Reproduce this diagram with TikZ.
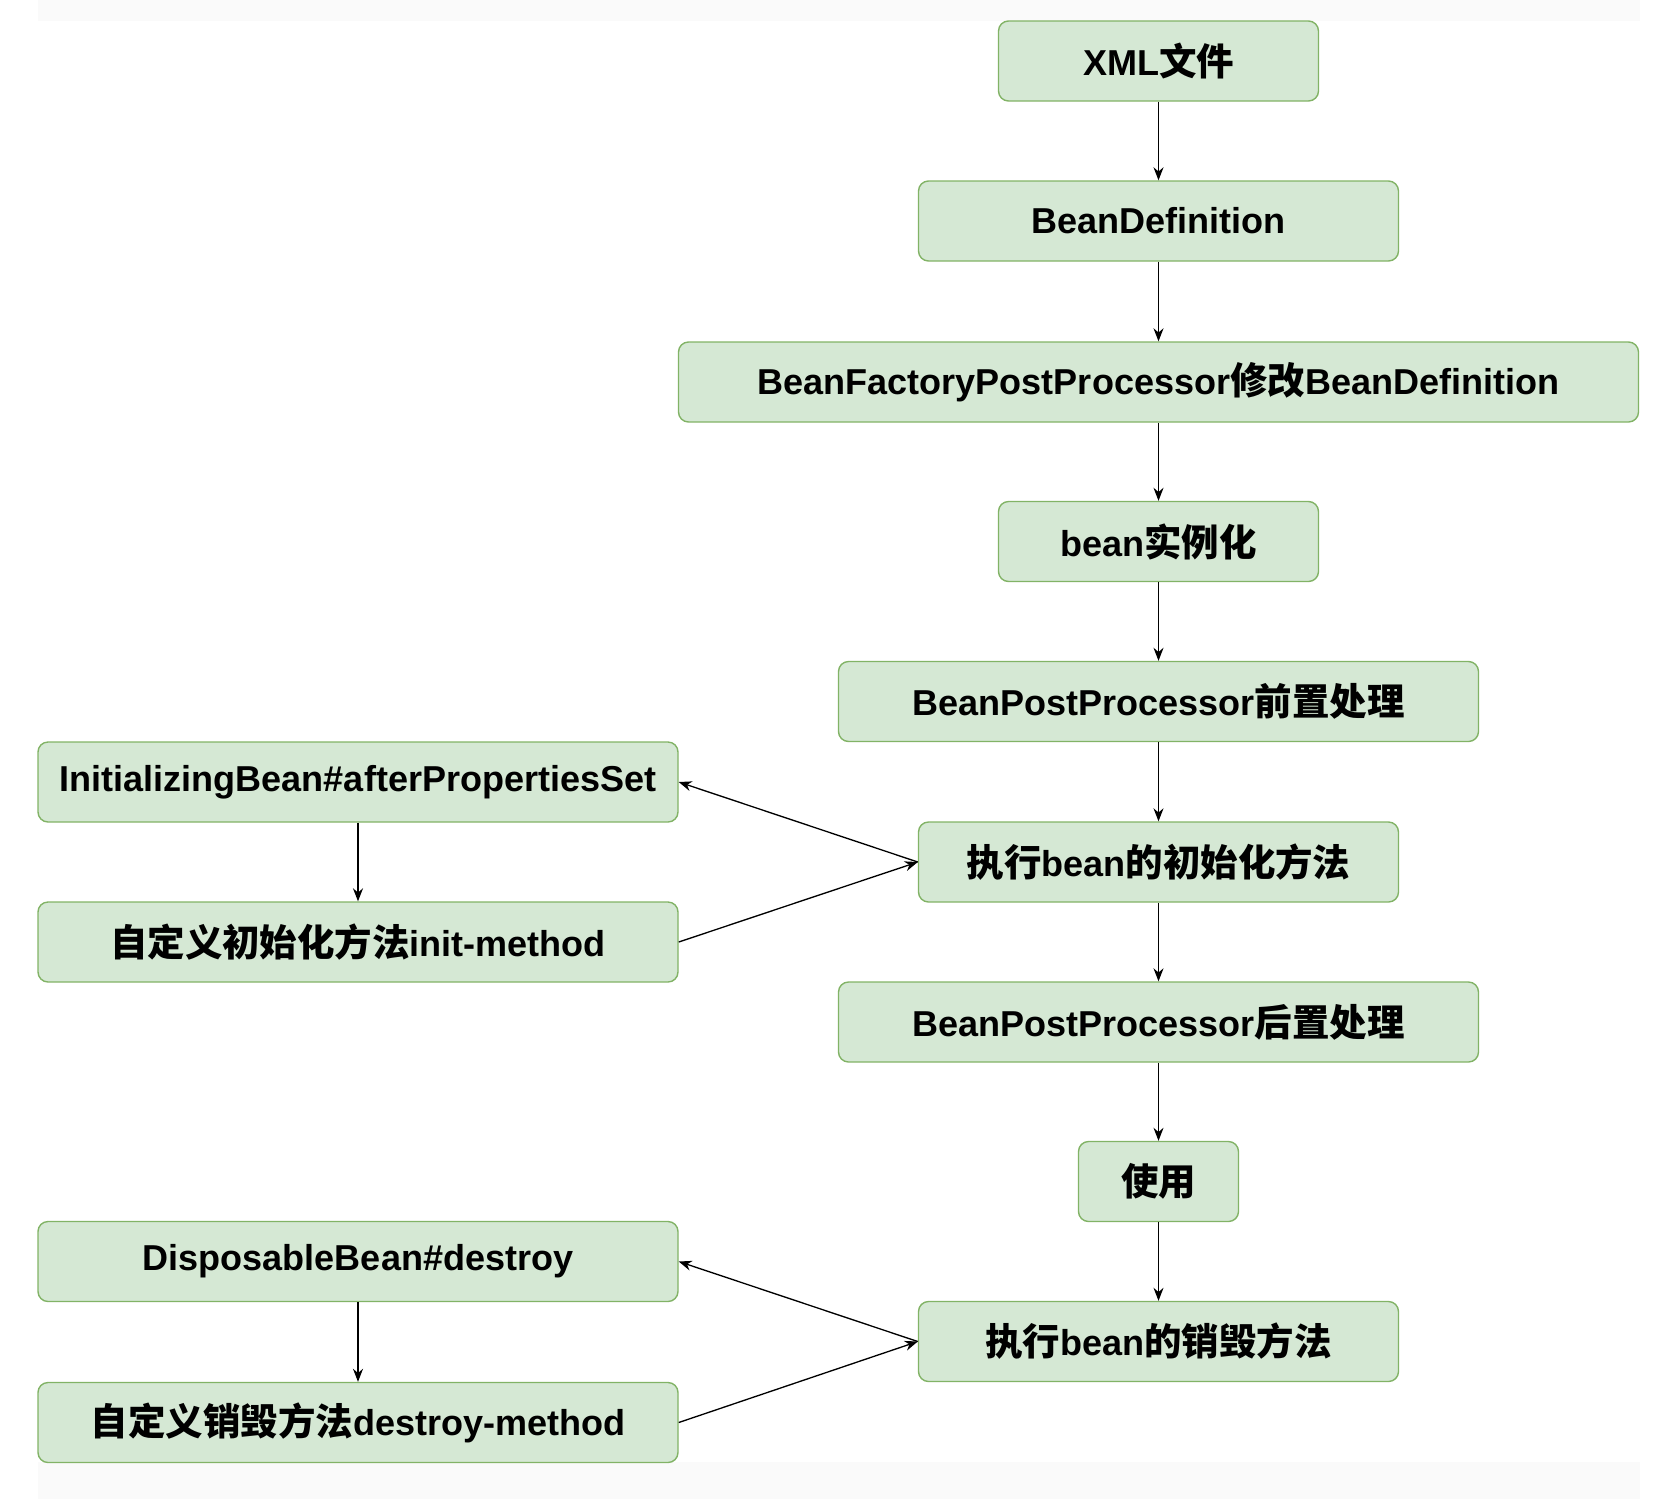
\documentclass[tikz,border=0pt]{standalone}
\usepackage{fontspec}
\setmainfont{Liberation Sans}
\newfontfamily\cjk{Noto Sans CJK SC}[Scale=1.04]
\newcommand{\zh}[1]{{\cjk #1}}
\usetikzlibrary{arrows.meta}
\definecolor{boxfill}{HTML}{D5E8D4}
\definecolor{boxline}{HTML}{82B366}
\definecolor{band}{HTML}{FAFAFA}
\begin{document}
\begin{tikzpicture}[
    font=\fontsize{20.5}{24}\selectfont\bfseries,
    box/.style={draw=boxline, fill=boxfill, rounded corners=0.2cm, minimum height=1.6cm, line width=0.8pt, inner sep=0pt},
    flow/.style={-{Stealth[length=0.26cm,width=0.2cm]}, line width=0.75pt}
]

\useasboundingbox (0,0) rectangle (33.4,-29.98);
\fill[band] (0.75,0) rectangle (32.8,-0.42);
\fill[band] (0.75,-29.24) rectangle (32.8,-29.98);

% main column
\node[box, minimum width=6.4cm]  (xml)   at (23.17,-1.22)  {XML\zh{文件}};
\node[box, minimum width=9.6cm]  (bdef)  at (23.17,-4.42)  {BeanDefinition};
\node[box, minimum width=19.2cm] (bfpp)  at (23.17,-7.64)  {BeanFactoryPostProcessor\zh{修改}BeanDefinition};
\node[box, minimum width=6.4cm]  (inst)  at (23.17,-10.83) {bean\zh{实例化}};
\node[box, minimum width=12.8cm] (pre)   at (23.17,-14.03) {BeanPostProcessor\zh{前置处理}};
\node[box, minimum width=9.6cm]  (init)  at (23.17,-17.24) {\zh{执行}bean\zh{的初始化方法}};
\node[box, minimum width=12.8cm] (post)  at (23.17,-20.44) {BeanPostProcessor\zh{后置处理}};
\node[box, minimum width=3.2cm]  (use)   at (23.17,-23.63) {\zh{使用}};
\node[box, minimum width=9.6cm]  (destr) at (23.17,-26.83) {\zh{执行}bean\zh{的销毁方法}};

% left column
\node[box, minimum width=12.8cm] (ibean) at (7.16,-15.64) {InitializingBean\#afterPropertiesSet};
\node[box, minimum width=12.8cm] (initm) at (7.16,-18.84) {\zh{自定义初始化方法}init-method};
\node[box, minimum width=12.8cm] (dbean) at (7.16,-25.23) {DisposableBean\#destroy};
\node[box, minimum width=12.8cm] (destm) at (7.16,-28.45) {\zh{自定义销毁方法}destroy-method};

\draw[flow] (xml) -- (bdef);
\draw[flow] (bdef) -- (bfpp);
\draw[flow] (bfpp) -- (inst);
\draw[flow] (inst) -- (pre);
\draw[flow] (pre) -- (init);
\draw[flow] (init) -- (post);
\draw[flow] (post) -- (use);
\draw[flow] (use) -- (destr);

\draw[flow] (init.west) -- (ibean.east);
\draw[flow] (ibean) -- (initm);
\draw[flow] (initm.east) -- (init.west);

\draw[flow] (destr.west) -- (dbean.east);
\draw[flow] (dbean) -- (destm);
\draw[flow] (destm.east) -- (destr.west);

\end{tikzpicture}
\end{document}
